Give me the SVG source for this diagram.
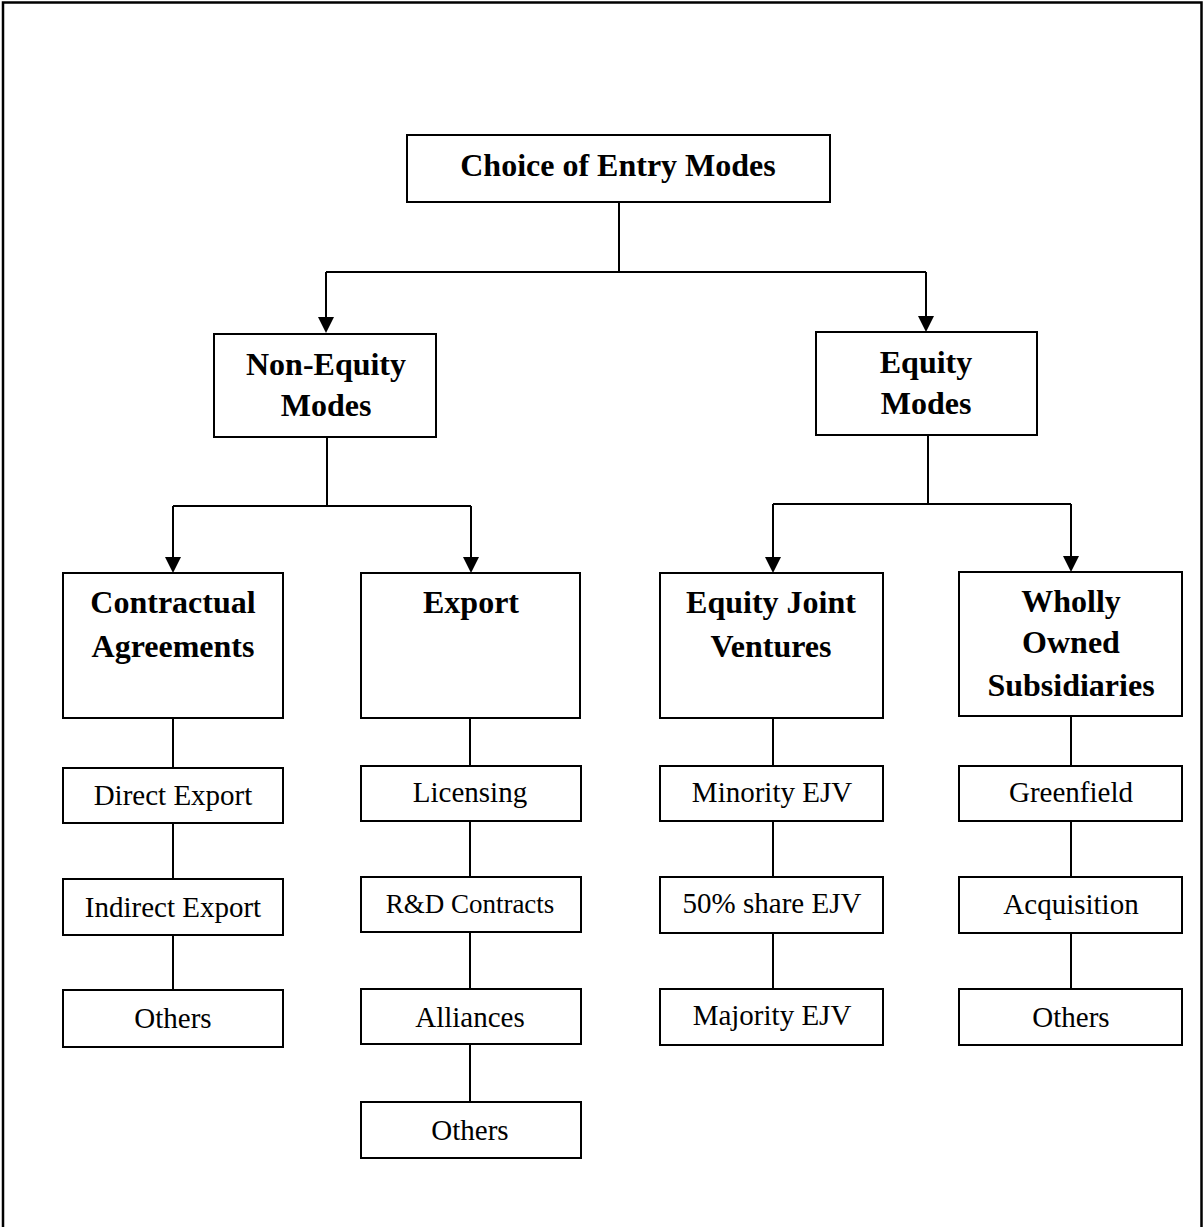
<svg xmlns="http://www.w3.org/2000/svg" width="1204" height="1227" viewBox="0 0 1204 1227">
  <style>
    .box { fill: #fff; stroke: #000; stroke-width: 2; }
    .frame { fill: none; stroke: #000; stroke-width: 2.5; }
    .wire { fill: none; stroke: #000; stroke-width: 2; }
    .arrow { marker-end: url(#arrow); }
    .head { font-family: "Liberation Serif", "Times New Roman", serif; font-weight: bold; font-size: 32px; text-anchor: middle; fill: #000; }
    .item { font-family: "Liberation Serif", "Times New Roman", serif; font-size: 29px; text-anchor: middle; fill: #000; }
  </style>
  <defs>
    <!-- solid triangular head; its tip sits 8px past the end of the line -->
    <marker id="arrow" markerUnits="userSpaceOnUse" markerWidth="16" markerHeight="16" refX="8" refY="8" orient="auto" viewBox="0 0 16 16">
      <path d="M0,0 L16,8 L0,16 Z" fill="#000"/>
    </marker>
  </defs>

  <rect width="1204" height="1227" fill="#fff"/>
  <!-- page frame, open at the bottom -->
  <path class="frame" d="M3,1227 V2.5 H1201.5 V1227"/>

  <!-- connectors -->
  <g id="connectors">
    <!-- root to the two mode families -->
    <path class="wire" d="M619,202 V272 M326,272 H926"/>
    <path class="wire arrow" d="M326,272 V325"/>
    <path class="wire arrow" d="M926,272 V324"/>

    <!-- non-equity branches -->
    <path class="wire" d="M327,437 V506 M173,506 H471"/>
    <path class="wire arrow" d="M173,506 V565"/>
    <path class="wire arrow" d="M471,506 V565"/>

    <!-- equity branches -->
    <path class="wire" d="M928,435 V504 M773,504 H1071"/>
    <path class="wire arrow" d="M773,504 V565"/>
    <path class="wire arrow" d="M1071,504 V564"/>

    <!-- sub-mode chains -->
    <path class="wire" d="M173,718 V768 M173,823 V879 M173,935 V990"/>
    <path class="wire" d="M470,718 V766 M470,821 V877 M470,932 V989 M470,1044 V1102"/>
    <path class="wire" d="M773,718 V766 M773,821 V877 M773,933 V989"/>
    <path class="wire" d="M1071,716 V766 M1071,821 V877 M1071,933 V989"/>
  </g>

  <!-- root -->
  <g id="node-root">
    <rect class="box" x="407" y="135" width="423" height="67"/>
    <text class="head" x="618" y="176">Choice of Entry Modes</text>
  </g>

  <!-- second level -->
  <g id="node-non-equity">
    <rect class="box" x="214" y="334" width="222" height="103"/>
    <text class="head" x="326" y="375">Non-Equity</text>
    <text class="head" x="326" y="416">Modes</text>
  </g>
  <g id="node-equity">
    <rect class="box" x="816" y="332" width="221" height="103"/>
    <text class="head" x="926" y="373">Equity</text>
    <text class="head" x="926" y="414">Modes</text>
  </g>

  <!-- third level -->
  <g id="node-contractual">
    <rect class="box" x="63" y="573" width="220" height="145"/>
    <text class="head" x="173" y="613">Contractual</text>
    <text class="head" x="173" y="657">Agreements</text>
  </g>
  <g id="node-export">
    <rect class="box" x="361" y="573" width="219" height="145"/>
    <text class="head" x="471" y="613">Export</text>
  </g>
  <g id="node-ejv">
    <rect class="box" x="660" y="573" width="223" height="145"/>
    <text class="head" x="771" y="613">Equity Joint</text>
    <text class="head" x="771" y="657">Ventures</text>
  </g>
  <g id="node-wos">
    <rect class="box" x="959" y="572" width="223" height="144"/>
    <text class="head" x="1071" y="612">Wholly</text>
    <text class="head" x="1071" y="653">Owned</text>
    <text class="head" x="1071" y="696">Subsidiaries</text>
  </g>

  <!-- contractual agreements column -->
  <g id="node-direct-export">
    <rect class="box" x="63" y="768" width="220" height="55"/>
    <text class="item" x="173" y="805">Direct Export</text>
  </g>
  <g id="node-indirect-export">
    <rect class="box" x="63" y="879" width="220" height="56"/>
    <text class="item" x="173" y="917">Indirect Export</text>
  </g>
  <g id="node-others-1">
    <rect class="box" x="63" y="990" width="220" height="57"/>
    <text class="item" x="173" y="1028">Others</text>
  </g>

  <!-- export column -->
  <g id="node-licensing">
    <rect class="box" x="361" y="766" width="220" height="55"/>
    <text class="item" x="470" y="802">Licensing</text>
  </g>
  <g id="node-rd">
    <rect class="box" x="361" y="877" width="220" height="55"/>
    <text class="item" x="470" y="913" style="font-size:27px">R&amp;D Contracts</text>
  </g>
  <g id="node-alliances">
    <rect class="box" x="361" y="989" width="220" height="55"/>
    <text class="item" x="470" y="1027">Alliances</text>
  </g>
  <g id="node-others-2">
    <rect class="box" x="361" y="1102" width="220" height="56"/>
    <text class="item" x="470" y="1140">Others</text>
  </g>

  <!-- equity joint venture column -->
  <g id="node-minority">
    <rect class="box" x="660" y="766" width="223" height="55"/>
    <text class="item" x="772" y="802">Minority EJV</text>
  </g>
  <g id="node-fifty">
    <rect class="box" x="660" y="877" width="223" height="56"/>
    <text class="item" x="772" y="913">50% share EJV</text>
  </g>
  <g id="node-majority">
    <rect class="box" x="660" y="989" width="223" height="56"/>
    <text class="item" x="772" y="1025">Majority EJV</text>
  </g>

  <!-- wholly owned column -->
  <g id="node-greenfield">
    <rect class="box" x="959" y="766" width="223" height="55"/>
    <text class="item" x="1071" y="802">Greenfield</text>
  </g>
  <g id="node-acquisition">
    <rect class="box" x="959" y="877" width="223" height="56"/>
    <text class="item" x="1071" y="914">Acquisition</text>
  </g>
  <g id="node-others-3">
    <rect class="box" x="959" y="989" width="223" height="56"/>
    <text class="item" x="1071" y="1027">Others</text>
  </g>
</svg>
